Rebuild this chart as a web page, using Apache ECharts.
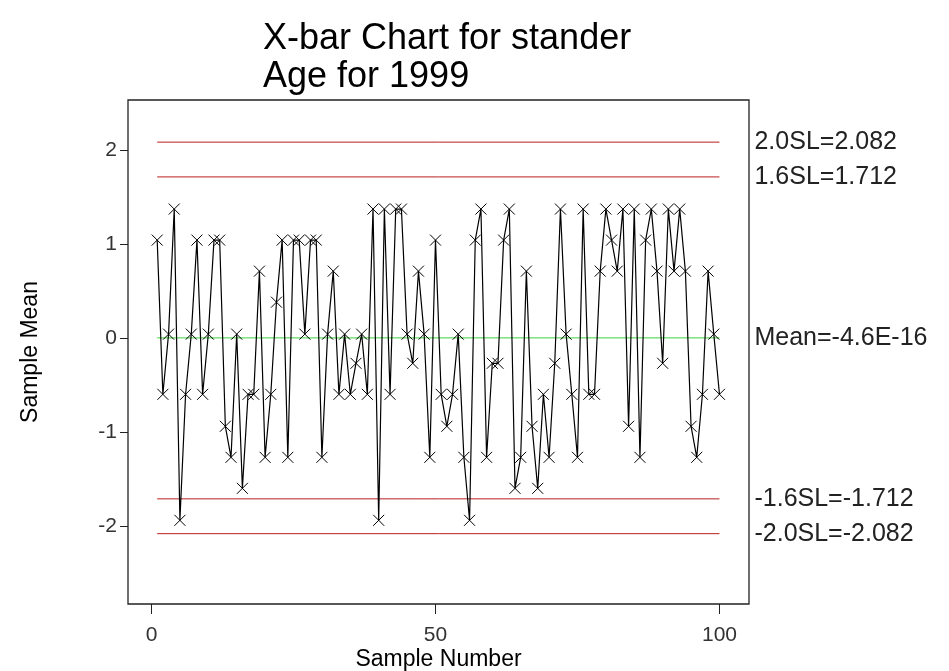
<!DOCTYPE html>
<html>
<head>
<meta charset="utf-8">
<script src="https://cdn.jsdelivr.net/npm/echarts@6/dist/echarts.min.js"></script>
<style>html,body{margin:0;padding:0;background:#fff;}#c{width:949px;height:671px;}</style>
</head>
<body>
<div id="c"></div>
<script>
const titleLines = ['X-bar Chart for stander', 'Age for 1999'];
const xTicks = [0, 50, 100];
const yTicks = [-2, -1, 0, 1, 2];
const sampleMeans = [
  1.04, -0.6, 0.04, 1.37, -1.94, -0.6, 0.04, 1.04, -0.6, 0.04,
  1.04, 1.04, -0.94, -1.27, 0.04, -1.6, -0.6, -0.6, 0.71, -1.27,
  -0.6, 0.38, 1.04, -1.27, 1.04, 1.04, 0.04, 1.04, 1.04, -1.27,
  0.04, 0.71, -0.6, 0.04, -0.6, -0.27, 0.04, -0.6, 1.37, -1.94,
  1.37, -0.6, 1.37, 1.37, 0.04, -0.27, 0.71, 0.04, -1.27, 1.04,
  -0.6, -0.94, -0.6, 0.04, -1.27, -1.94, 1.04, 1.37, -1.27, -0.27,
  -0.27, 1.04, 1.37, -1.6, -1.27, 0.71, -0.94, -1.6, -0.6, -1.27,
  -0.27, 1.37, 0.04, -0.6, -1.27, 1.37, -0.6, -0.6, 0.71, 1.37,
  1.04, 0.71, 1.37, -0.94, 1.37, -1.27, 1.04, 1.37, 0.71, -0.27,
  1.37, 0.71, 1.37, 0.71, -0.94, -1.27, -0.6, 0.71, 0.04, -0.6
];
const limitNames = ['2.0SL=2.082', '1.6SL=1.712', 'Mean=-4.6E-16', '-1.6SL=-1.712', '-2.0SL=-2.082'];
const limitValues = [2.082, 1.712, 0, -1.712, -2.082];
const limitColors = ['#b81e1e', '#b81e1e', '#3ad43a', '#b81e1e', '#b81e1e'];

const FONT = 'Liberation Sans, Arial, sans-serif';
const firstSample = 1;
const lastSample = sampleMeans.length;
const pointData = sampleMeans.map((v, i) => [i + 1, v]);

const limitSeries = limitValues.map((v, i) => ({
  type: 'line',
  data: [[firstSample, v], [lastSample, v]],
  showSymbol: false,
  symbol: 'none',
  silent: true,
  z: 1,
  lineStyle: { color: limitColors[i], width: 1 },
  endLabel: {
    show: true,
    formatter: limitNames[i],
    color: '#222',
    fontFamily: FONT,
    fontSize: 25,
    distance: 35
  },
  animation: false
}));

const chart = echarts.init(document.getElementById('c'), null, { renderer: 'canvas' });
chart.setOption({
  backgroundColor: '#fff',
  animation: false,
  title: {
    text: titleLines.join('\n'),
    left: 258,
    top: 15,
    textStyle: {
      fontFamily: FONT,
      fontSize: 36,
      fontWeight: 'normal',
      color: '#000',
      lineHeight: 38
    }
  },
  grid: {
    left: 128, right: 200, top: 100, bottom: 67,
    outerBoundsMode: 'none',
    containLabel: false,
    show: true, borderColor: '#222', borderWidth: 1.3, backgroundColor: 'transparent'
  },
  xAxis: {
    type: 'value',
    min: -4.14, max: 105.2,
    name: 'Sample Number',
    nameLocation: 'middle',
    nameGap: 44,
    nameMoveOverlap: false,
    nameTextStyle: { fontFamily: FONT, fontSize: 23, color: '#000' },
    axisLine: { show: false, onZero: false },
    splitLine: { show: false },
    axisTick: { show: true, customValues: xTicks, length: 10, lineStyle: { color: '#222' } },
    axisLabel: { show: true, customValues: xTicks, margin: 21, fontFamily: FONT, fontSize: 21, color: '#333' }
  },
  yAxis: {
    type: 'value',
    min: -2.83, max: 2.53,
    name: 'Sample Mean',
    nameLocation: 'middle',
    nameGap: 86,
    nameRotate: 90,
    nameMoveOverlap: false,
    nameTextStyle: { fontFamily: FONT, fontSize: 23, color: '#000' },
    axisLine: { show: false, onZero: false },
    splitLine: { show: false },
    axisTick: { show: true, customValues: yTicks, length: 8, lineStyle: { color: '#222' } },
    axisLabel: { show: true, customValues: yTicks, margin: 11, fontFamily: FONT, fontSize: 21, color: '#333' }
  },
  series: limitSeries.concat([{
    type: 'line',
    data: pointData,
    z: 3,
    symbol: 'path://M0,0L10,10M10,0L0,10',
    symbolSize: 11,
    showAllSymbol: true,
    lineStyle: { color: '#000', width: 1.2 },
    itemStyle: { color: 'rgba(0,0,0,0)', borderColor: '#000', borderWidth: 1 },
    animation: false
  }])
});
</script>
</body>
</html>
